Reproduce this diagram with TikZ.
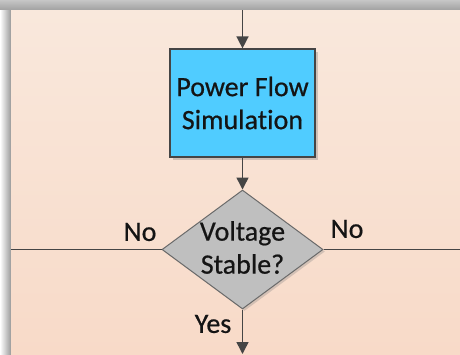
\documentclass[tikz,border=0pt]{standalone}
\usepackage{fontspec}
\setmainfont{Carlito}[Ligatures=NoCommon, FakeBold=0.6]
\usetikzlibrary{arrows.meta,shapes.geometric,shadows}
\definecolor{linec}{HTML}{454545}
\definecolor{boxfill}{HTML}{50CCFF}
\definecolor{diafill}{HTML}{BFBFBF}
\definecolor{paneltop}{HTML}{F9E8DC}
\definecolor{panelbot}{HTML}{F8DAC8}
\definecolor{txt}{HTML}{141414}
\begin{document}
\begin{tikzpicture}[x=1pt,y=-1pt,
  conn/.style={draw=linec, line width=1.5pt},
  arr/.style={conn, -{Triangle[length=12pt,width=12pt]}},
  procbox/.style={rectangle, draw=linec, line width=1.2pt, fill=boxfill,
    minimum width=145pt, minimum height=108pt, inner sep=0pt, align=center,
    font=\fontsize{28}{33}\selectfont, text=txt,
    drop shadow={shadow xshift=2.5pt, shadow yshift=-2.5pt, opacity=0.35}},
  decision/.style={diamond, draw=linec!80, line width=1pt, fill=diafill,
    minimum width=161pt, minimum height=119pt, inner sep=0pt,
    drop shadow={shadow xshift=2pt, shadow yshift=-2pt, opacity=0.3}},
  lbl/.style={font=\fontsize{28}{33}\selectfont, text=txt, inner sep=0pt}
]
\useasboundingbox (0,0) rectangle (460,354);
% outer shadow frame
\fill[white] (0,0) rectangle (460,354);
\shade[top color=gray!45, bottom color=gray!75] (0,0) rectangle (460,10.5);
\shade[left color=white, right color=gray!80] (0,10) rectangle (11,354);
% panel
\shade[top color=paneltop, bottom color=panelbot] (11,10) rectangle (460,354);

\node[procbox] (pf) at (242.5,103) {Power Flow\\Simulation};
\node[decision, label={[lbl, align=center, yshift=2pt]center:Voltage\\Stable?}] (vs) at (242.5,249.5) {};

\coordinate (top) at (242.5,10);
\coordinate (left) at (11,249.5);
\coordinate (right) at (460,249.5);
\coordinate (bot) at (242.5,354);

\draw[arr] (top) -- (pf.north);
\draw[arr] (pf.south) -- (vs.north);
\draw[conn] (vs.west) -- (left);
\draw[conn] (vs.east) -- (right);
\draw[arr] (vs.south) -- (bot);

\node[lbl] (nol) at (140,232) {No};
\node[lbl] (nor) at (347,229) {No};
\node[lbl] (yes) at (213,324) {Yes};
\end{tikzpicture}
\end{document}
